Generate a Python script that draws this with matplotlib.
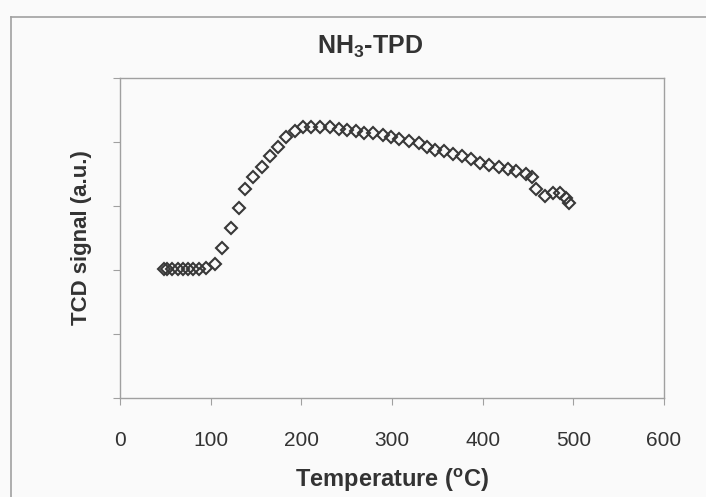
import matplotlib.pyplot as plt
from matplotlib.lines import Line2D

# NH3-TPD profile
temperature = [48.6, 52, 57.8, 64, 69.5, 75, 81, 87, 94.5, 104.8,
               112.9, 122.1, 131.3, 137.6, 146.8, 156.4, 165.2, 174.7, 183.6, 193.2,
               202, 211.2, 220.8, 231.5, 241, 250.2, 260.1, 269.3, 278.5, 289.6,
               298.8, 308, 318.2, 329.3, 338.2, 347.4, 356.9, 367.5, 377.1, 387,
               397.4, 407.3, 417.6, 427.5, 436.7, 447.8, 454.4, 458.8, 468.7, 477.9,
               485.3, 491.9, 494.8]
tcd_signal = [2.01, 2.01, 2.01, 2.01, 2.01, 2.01, 2.01, 2.02, 2.03, 2.10,
              2.34, 2.65, 2.97, 3.26, 3.46, 3.61, 3.78, 3.92, 4.08, 4.17,
              4.23, 4.24, 4.24, 4.23, 4.20, 4.19, 4.17, 4.14, 4.14, 4.11,
              4.08, 4.04, 4.01, 3.98, 3.92, 3.88, 3.86, 3.82, 3.78, 3.73,
              3.67, 3.64, 3.61, 3.58, 3.55, 3.50, 3.46, 3.26, 3.16, 3.20,
              3.21, 3.13, 3.04]
x_ticks = [0, 100, 200, 300, 400, 500, 600]
y_ticks = [0, 1, 2, 3, 4, 5]

plt.rcParams['font.family'] = ['Liberation Sans', 'DejaVu Sans']
text_col = '#333333'
frame_col = '#a0a0a0'

fig = plt.figure(figsize=(7.06, 4.97), dpi=100, facecolor='#fafafa')
ax = fig.add_axes([120 / 706, 1 - 398 / 497, 544 / 706, 320 / 497])
ax.set_facecolor('#fafafa')

ax.plot(temperature, tcd_signal, linestyle='none', marker='D', markersize=6.2,
        markerfacecolor='none', markeredgecolor='#383838', markeredgewidth=1.5)

ax.set_xlim(0, 600)
ax.set_ylim(0, 5)
ax.set_xticks(x_ticks)
ax.set_yticks(y_ticks)
ax.set_yticklabels([])
ax.tick_params(axis='x', direction='out', length=5, color=frame_col,
               labelsize=15, labelcolor=text_col, pad=19)
ax.tick_params(axis='y', direction='out', length=5, color=frame_col)
for s in ax.spines.values():
    s.set_color(frame_col)
    s.set_linewidth(1.0)

ax.set_xlabel('Temperature ($\\mathregular{^oC}$)', fontsize=17, fontweight='bold',
              color=text_col, labelpad=12)
ax.set_ylabel('TCD signal (a.u.)', fontsize=16, fontweight='bold',
              color=text_col, labelpad=12)
fig.text(370 / 706, 1 - 47 / 497, 'NH$\\mathregular{_3}$-TPD', fontsize=18,
         fontweight='bold', color=text_col, ha='center', va='center')

# outer chart frame (left and top edges visible in the scan)
fig.add_artist(Line2D([11 / 706, 11 / 706], [0, 1 - 17 / 497],
                      transform=fig.transFigure, color=frame_col, lw=1.2))
fig.add_artist(Line2D([11 / 706, 1], [1 - 17 / 497, 1 - 17 / 497],
                      transform=fig.transFigure, color=frame_col, lw=1.2))

fig.savefig('out.png', dpi=100, facecolor=fig.get_facecolor())
